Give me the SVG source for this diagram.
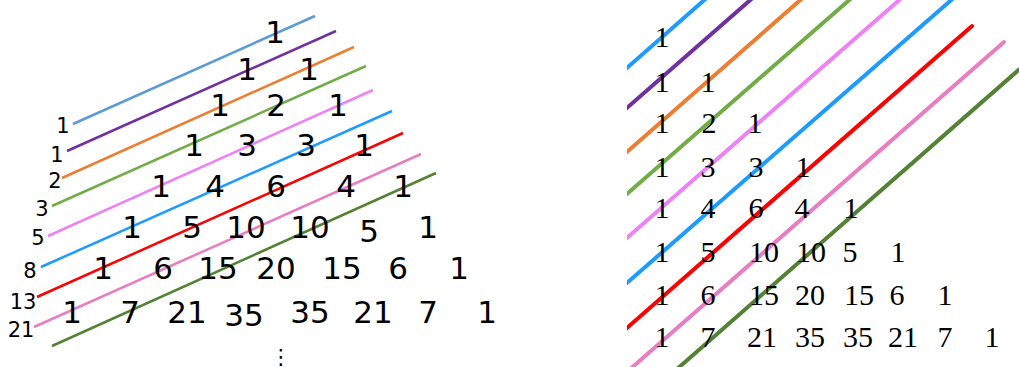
<svg xmlns="http://www.w3.org/2000/svg" width="1019" height="367" viewBox="0 0 1019 367">
<defs>
<clipPath id="rclip"><rect x="627" y="0" width="392" height="367"/></clipPath>
</defs>
<style>
.l{fill:none;stroke-width:2.5;stroke-linecap:butt}
.r{fill:none;stroke-width:4;stroke-linecap:round}
.c1{stroke:#5B9BD5}.c2{stroke:#7030A0}.c3{stroke:#ED7D31}.c4{stroke:#70AD47}.c5{stroke:#EE82F5}.c6{stroke:#1E9BFF}.c7{stroke:#FF0000}.c8{stroke:#E87DC2}.c9{stroke:#548235}
.n{font-family:"DejaVu Sans",sans-serif;font-size:31px;fill:#000;text-anchor:middle}
.s{font-family:"DejaVu Sans",sans-serif;font-size:21px;fill:#000;text-anchor:middle}
.t{font-family:"Liberation Serif",serif;font-size:30px;fill:#000;text-anchor:middle}
</style>
<rect width="1019" height="367" fill="#fff"/>
<g id="left-panel">
<g id="left-connectors">
<line class="l c1" x1="73" y1="124" x2="315" y2="16"/>
<line class="l c2" x1="67" y1="151" x2="336" y2="31"/>
<line class="l c3" x1="62" y1="178" x2="354" y2="47"/>
<line class="l c4" x1="52" y1="206" x2="366" y2="66"/>
<line class="l c5" x1="48" y1="236" x2="373" y2="90"/>
<line class="l c6" x1="41" y1="267" x2="392" y2="111"/>
<line class="l c7" x1="37" y1="297" x2="403" y2="133"/>
<line class="l c8" x1="34" y1="327" x2="421" y2="154"/>
<line class="l c9" x1="52" y1="346" x2="436" y2="173"/>
</g>
<g id="left-sums">
<text class="s" x="63" y="133">1</text>
<text class="s" x="57" y="162">1</text>
<text class="s" x="55" y="188">2</text>
<text class="s" x="42" y="216">3</text>
<text class="s" x="38" y="245">5</text>
<text class="s" x="30" y="278">8</text>
<text class="s" x="23" y="309">13</text>
<text class="s" x="21" y="337">21</text>
</g>
<g id="left-triangle">
<text class="n" x="275" y="43">1</text>
<text class="n" x="247" y="80">1</text><text class="n" x="309" y="80">1</text>
<text class="n" x="220" y="116">1</text><text class="n" x="276" y="116">2</text><text class="n" x="338" y="116">1</text>
<text class="n" x="194" y="156">1</text><text class="n" x="247" y="156">3</text><text class="n" x="306" y="156">3</text><text class="n" x="364" y="156">1</text>
<text class="n" x="161" y="197">1</text><text class="n" x="215" y="197">4</text><text class="n" x="276" y="197">6</text><text class="n" x="346" y="197">4</text><text class="n" x="403" y="197">1</text>
<text class="n" x="132" y="238">1</text><text class="n" x="192" y="238">5</text><text class="n" x="246" y="238">10</text><text class="n" x="310" y="238">10</text><text class="n" x="369" y="242">5</text><text class="n" x="428" y="238">1</text>
<text class="n" x="103" y="279">1</text><text class="n" x="163" y="279">6</text><text class="n" x="218" y="279">15</text><text class="n" x="276" y="279">20</text><text class="n" x="342" y="279">15</text><text class="n" x="398" y="279">6</text><text class="n" x="459" y="279">1</text>
<text class="n" x="72" y="323">1</text><text class="n" x="130" y="323">7</text><text class="n" x="187" y="323">21</text><text class="n" x="244" y="326">35</text><text class="n" x="310" y="323">35</text><text class="n" x="373" y="323">21</text><text class="n" x="428" y="323">7</text><text class="n" x="487" y="323">1</text>
<text class="s" x="281" y="364">⋮</text>
</g>
</g>
<g id="right-panel">
<g id="right-connectors" clip-path="url(#rclip)">
<line class="r c6" x1="620" y1="74" x2="710" y2="-5"/>
<line class="r c2" x1="620" y1="114" x2="756" y2="-5"/>
<line class="r c3" x1="620" y1="158" x2="806" y2="-5"/>
<line class="r c4" x1="620" y1="200" x2="855" y2="-5"/>
<line class="r c5" x1="620" y1="244" x2="905" y2="-5"/>
<line class="r c6" x1="620" y1="289" x2="957" y2="-5"/>
<line class="r c7" x1="620" y1="334" x2="972" y2="26"/>
<line class="r c8" x1="620" y1="378" x2="1004" y2="42"/>
<line class="r c9" x1="620" y1="419" x2="1030" y2="60"/>
</g>
<g id="right-triangle">
<text class="t" x="662" y="47">1</text>
<text class="t" x="662" y="92">1</text><text class="t" x="708" y="92">1</text>
<text class="t" x="662" y="133">1</text><text class="t" x="709" y="133">2</text><text class="t" x="755" y="133">1</text>
<text class="t" x="662" y="177">1</text><text class="t" x="708" y="177">3</text><text class="t" x="756" y="177">3</text><text class="t" x="803" y="177">1</text>
<text class="t" x="662" y="218">1</text><text class="t" x="708" y="218">4</text><text class="t" x="756" y="218">6</text><text class="t" x="802" y="218">4</text><text class="t" x="851" y="218">1</text>
<text class="t" x="662" y="262">1</text><text class="t" x="708" y="262">5</text><text class="t" x="764" y="262">10</text><text class="t" x="811" y="262">10</text><text class="t" x="850" y="262">5</text><text class="t" x="898" y="262">1</text>
<text class="t" x="662" y="305">1</text><text class="t" x="708" y="305">6</text><text class="t" x="764" y="305">15</text><text class="t" x="810" y="305">20</text><text class="t" x="859" y="305">15</text><text class="t" x="897" y="305">6</text><text class="t" x="945" y="305">1</text>
<text class="t" x="662" y="347">1</text><text class="t" x="708" y="347">7</text><text class="t" x="762" y="347">21</text><text class="t" x="810" y="347">35</text><text class="t" x="858" y="347">35</text><text class="t" x="903" y="347">21</text><text class="t" x="945" y="347">7</text><text class="t" x="992" y="347">1</text>
</g>
</g>
</svg>
